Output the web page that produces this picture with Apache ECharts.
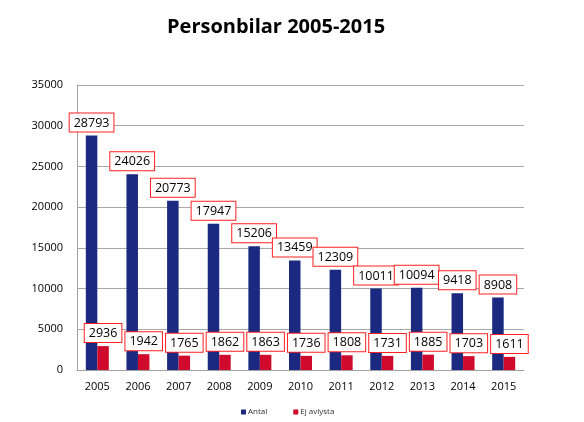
<!DOCTYPE html>
<html>
<head>
<meta charset="utf-8">
<script src="https://cdn.jsdelivr.net/npm/echarts@6/dist/echarts.min.js"></script>
<style>html,body{margin:0;padding:0;background:#fff}#c{width:584px;height:422px}</style>
</head>
<body>
<div id="c"></div>
<script>
var years = ['2005','2006','2007','2008','2009','2010','2011','2012','2013','2014','2015'];
var antal = [28793, 24026, 20773, 17947, 15206, 13459, 12309, 10011, 10094, 9418, 8908];
var ejAvlysta = [2936, 1942, 1765, 1862, 1863, 1736, 1808, 1731, 1885, 1703, 1611];
var yTicks = [0, 5000, 10000, 15000, 20000, 25000, 30000, 35000];

var font = '"Open Sans", sans-serif';
var labelStyle = {
  show: true,
  position: 'top',
  distance: 4,
  color: '#000',
  fontFamily: font,
  fontSize: 12.5,
  backgroundColor: '#fff',
  borderColor: '#ff2020',
  borderWidth: 1,
  padding: [3, 4, 2, 4]
};
var chart = echarts.init(document.getElementById('c'));
chart.setOption({
  animation: false,
  title: {
    text: 'Personbilar 2005-2015',
    left: 162,
    top: 12,
    textStyle: { fontFamily: font, fontWeight: 'bold', fontSize: 20, color: '#000' }
  },
  legend: {
    left: 236,
    top: 403,
    itemWidth: 5,
    itemHeight: 5,
    itemGap: 26,
    icon: 'rect',
    textStyle: { fontFamily: font, fontSize: 8, color: '#333', padding: [0, 0, 0, -3] },
    data: ['Antal', 'Ej avlysta']
  },
  grid: { left: 77, right: 60, top: 85, bottom: 52 },
  xAxis: {
    type: 'category',
    data: years,
    axisLine: { lineStyle: { color: '#a0a0a0', width: 1 } },
    axisTick: { show: false },
    axisLabel: { color: '#000', fontFamily: font, fontSize: 11, margin: 11 }
  },
  yAxis: {
    type: 'value',
    min: yTicks[0],
    max: yTicks[yTicks.length - 1],
    interval: 5000,
    axisLine: { show: true, lineStyle: { color: '#a0a0a0', width: 1 } },
    axisTick: { show: false },
    splitLine: { lineStyle: { color: '#a8a8a8', width: 1 } },
    axisLabel: {
      color: '#000', fontFamily: font, fontSize: 11, margin: 14,
      formatter: function (v) { return String(v); }
    }
  },
  series: [
    {
      name: 'Antal',
      type: 'bar',
      data: antal,
      barWidth: 11.5,
      barGap: '0%',
      itemStyle: { color: '#1b2a80' },
      label: labelStyle
    },
    {
      name: 'Ej avlysta',
      type: 'bar',
      data: ejAvlysta,
      barWidth: 11.5,
      itemStyle: { color: '#cf0a2c' },
      label: labelStyle
    }
  ]
});
</script>
</body>
</html>
